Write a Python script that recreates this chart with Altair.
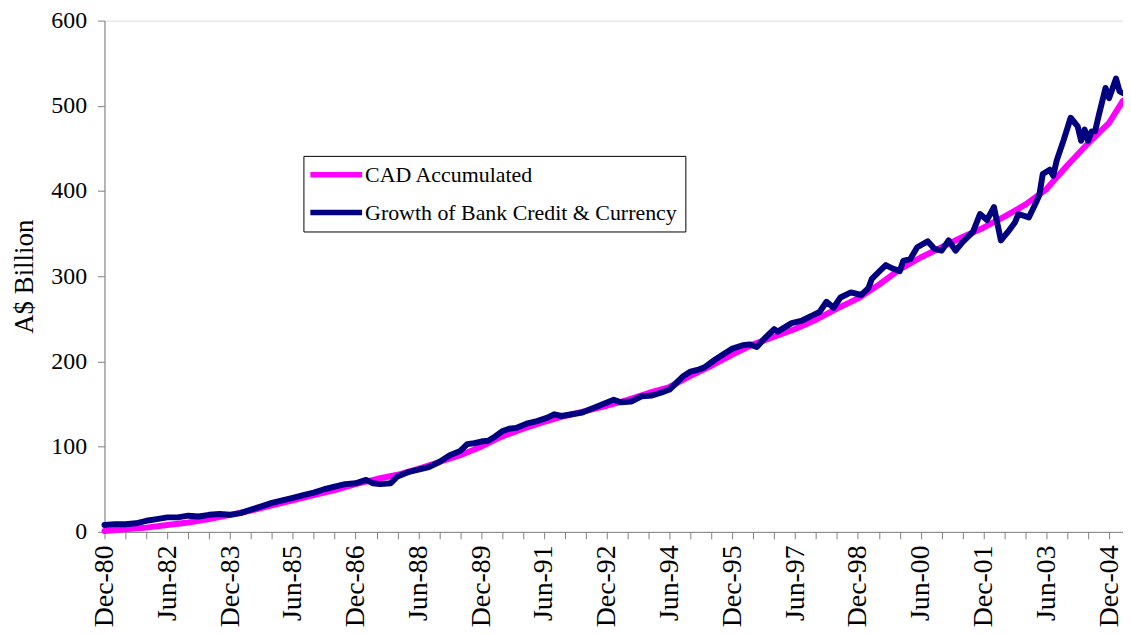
import altair as alt
import pandas as pd

# Months since Dec-1980 (0 = Dec-80) and values in A$ billion
cad_month = [0, 6, 12, 18, 24, 30, 36, 42, 48, 54, 60, 66, 72, 78, 84, 90, 96,
             102, 108, 114, 120, 126, 132, 138, 144, 150, 156, 162, 168, 174,
             180, 186, 192, 198, 204, 210, 216, 222, 228, 234, 240, 246, 252,
             258, 264, 270, 276, 282, 288, 292]
cad_value = [1, 3, 5, 8, 11, 15, 20, 25, 31, 37, 43, 49, 56, 62, 67, 74, 82,
             90, 100, 112, 121, 129, 136, 142, 148, 155, 163, 170, 183, 195,
             208, 220, 229, 238, 249, 262, 274, 290, 308, 322, 334, 346, 357,
             370, 384, 402, 430, 456, 480, 506]

bank_month = [0, 3, 6, 9, 12, 15, 18, 21, 24, 27, 30, 33, 36, 39, 42, 45, 48,
              51, 54, 57, 60, 63, 66, 69, 72, 75, 77, 79, 82, 84, 87, 90, 93,
              96, 99, 102, 104, 106, 108, 110, 112, 114, 116, 118, 121, 124,
              127, 129, 131, 134, 137, 140, 143, 146, 148, 151, 154, 157, 160,
              162, 164, 166, 168, 170, 172, 175, 178, 180, 183, 185, 187, 189,
              192, 193, 195, 197, 200, 203, 205, 207, 209, 211, 214, 217, 219,
              220, 222, 224, 226, 228, 229, 231, 233, 236, 238, 240, 242, 244,
              246, 249, 251, 253, 255, 257, 259, 261, 262, 265, 267, 268, 269,
              271, 272, 273, 275, 277, 279, 280, 281, 282, 283, 284, 285, 287,
              288, 290, 291, 292]
bank_value = [8, 9, 9, 10, 13, 15, 17, 17, 19, 18, 20, 21, 20, 22, 26, 30, 34,
              37, 40, 43, 46, 50, 53, 56, 57, 61, 57, 56, 57, 65, 70, 73, 76,
              82, 90, 95, 103, 104, 106, 107, 112, 118, 121, 122, 127, 130,
              134, 138, 136, 138, 140, 145, 150, 155, 152, 153, 159, 160, 164,
              167, 175, 183, 188, 190, 193, 202, 210, 215, 219, 220, 217, 226,
              238, 235, 240, 245, 248, 254, 258, 270, 263, 275, 281, 278, 286,
              297, 305, 313, 309, 306, 318, 320, 334, 341, 332, 330, 342, 330,
              340, 352, 373, 366, 381, 342, 352, 363, 373, 369, 386, 395, 420,
              425, 418, 436, 460, 486, 476, 459, 472, 459, 470, 470, 488, 521,
              509, 532, 517, 515]

series_names = ["CAD Accumulated", "Growth of Bank Credit & Currency"]
series_colors = ["#FF00FF", "#000080"]

df = pd.concat([
    pd.DataFrame({"month": cad_month, "value": cad_value, "series": series_names[0]}),
    pd.DataFrame({"month": bank_month, "value": bank_value, "series": series_names[1]}),
])

FONT = "Liberation Serif"

label_expr = (
    "datum.value % 18 == 0 ? "
    "(((datum.value / 18) % 2 == 0) ? 'Dec' : 'Jun') + '-' + "
    "slice('0' + ((80 + floor((11 + datum.value) / 12)) % 100), -2) : ''"
)

chart = alt.Chart(df).mark_line(strokeWidth=6, strokeJoin="round", strokeCap="round").encode(
    x=alt.X(
        "month:Q",
        scale=alt.Scale(domain=[0, 292], nice=False, zero=False),
        axis=alt.Axis(
            values=list(range(0, 293, 6)),
            labelExpr=label_expr,
            labelAngle=270,
            labelFontSize=28,
            labelFont=FONT,
            labelColor="black",
            labelPadding=6,
            labelOverlap=False,
            labelFlush=False,
            tickSize=7,
            tickColor="#808080",
            domainColor="#808080",
            grid=False,
            title=None,
        ),
    ),
    y=alt.Y(
        "value:Q",
        scale=alt.Scale(domain=[0, 600], nice=False),
        axis=alt.Axis(
            values=[0, 100, 200, 300, 400, 500, 600],
            labelFontSize=24,
            labelFont=FONT,
            labelColor="black",
            labelPadding=11,
            tickSize=7,
            tickColor="#808080",
            domainColor="#808080",
            grid=False,
            title="A$ Billion",
            titleFont=FONT,
            titleFontSize=27,
            titleFontWeight="normal",
            titleColor="black",
            titlePadding=12,
        ),
    ),
    color=alt.Color(
        "series:N",
        scale=alt.Scale(domain=series_names, range=series_colors),
        legend=alt.Legend(
            title=None,
            orient="none",
            legendX=200,
            legendY=136,
            direction="vertical",
            strokeColor="black",
            fillColor="white",
            padding=8,
            rowPadding=16,
            symbolType="M-1.5,0H5",
            symbolSize=256,
            symbolStrokeWidth=5.5,
            labelFont=FONT,
            labelFontSize=22,
            labelColor="black",
            labelOffset=32,
            labelLimit=0,
        ),
    ),
).properties(
    width=1024,
    height=514,
    autosize=alt.AutoSizeParams(type="none"),
    padding={"left": 97, "top": 11, "right": 0, "bottom": 100},
).configure_view(strokeWidth=0).configure(font=FONT)

chart.save("out.html", embed_options={"renderer": "svg", "actions": False})
